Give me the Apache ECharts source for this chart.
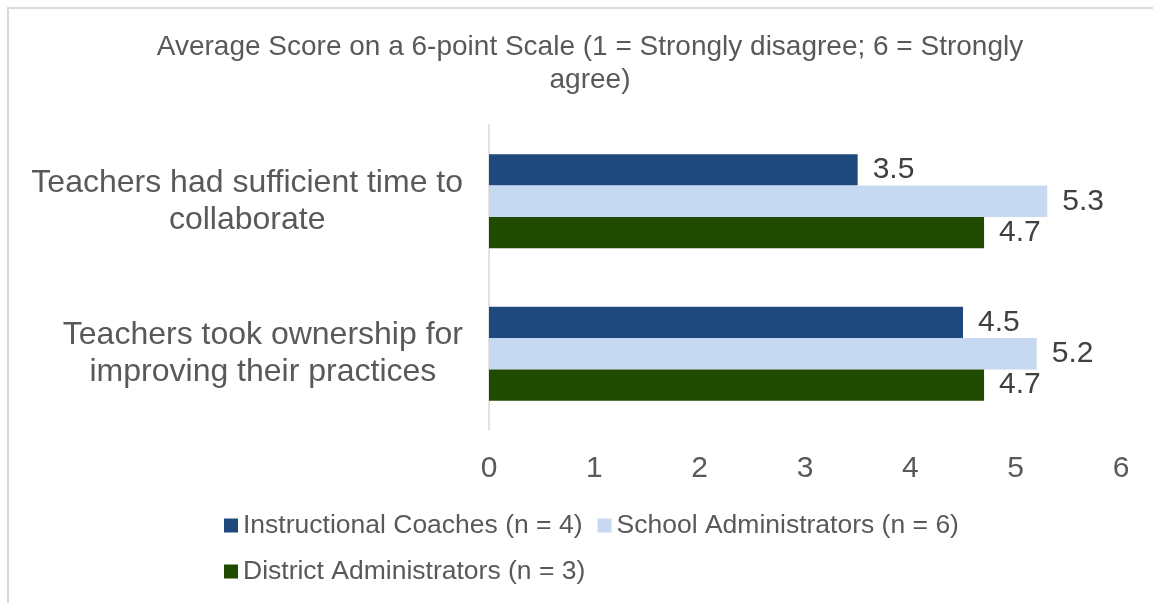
<!DOCTYPE html>
<html><head><meta charset="utf-8">
<script src="https://cdn.jsdelivr.net/npm/echarts@6/dist/echarts.min.js"></script>
<style>html,body{margin:0;padding:0;background:#fff}#c{width:1153px;height:603px}</style>
</head><body><div id="c"></div>
<script>
const categories = ["Teachers had sufficient time to collaborate", "Teachers took ownership for improving their practices"];
const seriesNames = ["Instructional Coaches (n = 4)", "School Administrators (n = 6)", "District Administrators (n = 3)"];
const coaches = [3.5, 4.5];
const schoolAdmins = [5.3, 5.2];
const districtAdmins = [4.7, 4.7];
const xTicks = [0, 1, 2, 3, 4, 5, 6];
const titleText = "Average Score on a 6-point Scale (1 = Strongly disagree; 6 = Strongly\nagree)";

const colors = ["#1f497d", "#c6d9f1", "#1f4a00"];
const font = "'Liberation Sans', Arial, sans-serif";
const catFontSize = 32;

// word-wrap a category label to a maximum pixel width
const measureCtx = document.createElement('canvas').getContext('2d');
measureCtx.font = catFontSize + "px 'Liberation Sans', Arial, sans-serif";
function wrap(text, maxW) {
  const words = text.split(' ');
  const lines = [];
  let cur = '';
  words.forEach(w => {
    const t = cur ? cur + ' ' + w : w;
    if (cur && measureCtx.measureText(t).width > maxW) { lines.push(cur); cur = w; }
    else cur = t;
  });
  if (cur) lines.push(cur);
  return lines;
}

const chart = echarts.init(document.getElementById('c'));
const lbl = {show:true, position:'right', distance:15, fontSize:30, color:'#404040', fontFamily:font, formatter: p => p.value.toFixed(1)};
const legendText = {fontSize:26.5, color:'#595959', fontFamily:font};
chart.setOption({
  animation:false,
  color: colors,
  graphic:[{type:'rect', shape:{x:8,y:8,width:2000,height:2000}, style:{fill:'none', stroke:'#d9d9d9', lineWidth:2}, silent:true}],
  title:{text:titleText, left:585, top:26, textAlign:'center',
    textStyle:{fontSize:28, fontWeight:'normal', color:'#595959', fontFamily:font, lineHeight:33}},
  legend:[
    {data:[seriesNames[0], seriesNames[1]], left:219, top:507, itemWidth:14, itemHeight:14, itemGap:15, icon:'rect',
      textStyle:legendText},
    {data:[seriesNames[2]], left:219, top:553, itemWidth:14, itemHeight:14, itemGap:15, icon:'rect',
      textStyle:legendText}
  ],
  grid:{left:489, right:32, top:125, bottom:173, containLabel:false},
  xAxis:{type:'value', min:xTicks[0], max:xTicks[xTicks.length-1], interval:1,
    axisLine:{show:false}, axisTick:{show:false}, splitLine:{show:false},
    axisLabel:{fontSize:30, color:'#595959', fontFamily:font, margin:24}},
  yAxis:{type:'category', data:categories, inverse:true,
    axisLine:{show:true, lineStyle:{color:'#d9d9d9', width:1.5}}, axisTick:{show:false},
    axisLabel:{align:'right', margin:26,
      formatter: v => wrap(v, 445).map(l => '{c|' + l + '}').join('\n'),
      rich:{c:{align:'center', fontSize:catFontSize, lineHeight:37, color:'#595959', fontFamily:font}}}},
  series:[
    {name:seriesNames[0], type:'bar', data:coaches, barGap:'0%', barCategoryGap:'38.5%', label:lbl},
    {name:seriesNames[1], type:'bar', data:schoolAdmins, barGap:'0%', barCategoryGap:'38.5%', label:lbl},
    {name:seriesNames[2], type:'bar', data:districtAdmins, barGap:'0%', barCategoryGap:'38.5%', label:lbl}
  ]
});
</script></body></html>
